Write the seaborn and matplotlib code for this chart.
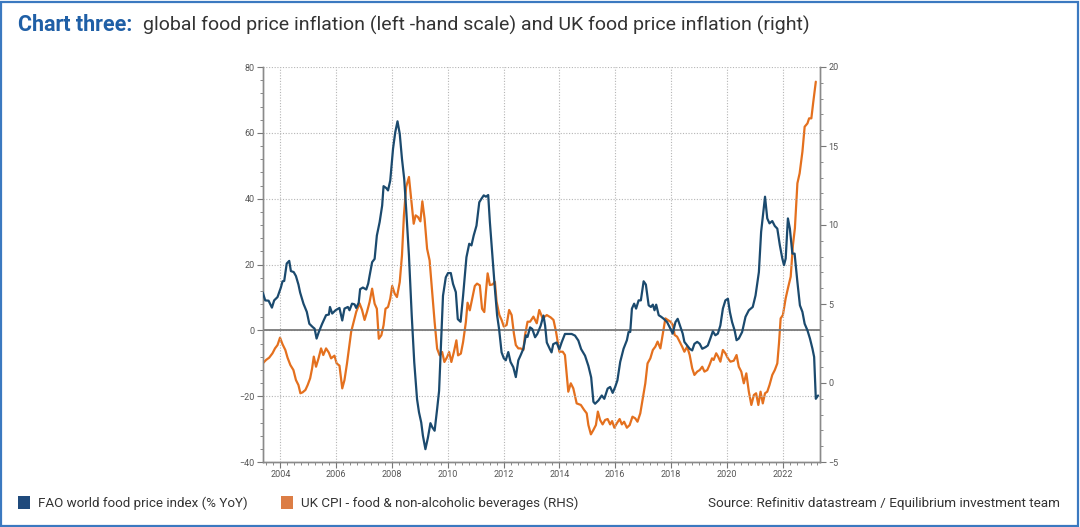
import matplotlib
matplotlib.use("Agg")
import matplotlib.pyplot as plt
import matplotlib.ticker as mticker
from matplotlib import font_manager
from matplotlib.patches import Patch, Rectangle
import seaborn as sns
import pandas as pd

# FAO world food price index, % YoY (left axis)
fao_t = [2003.37, 2003.46, 2003.58, 2003.70, 2003.78, 2003.90, 2004.02, 2004.08, 2004.14, 2004.23,
         2004.32, 2004.38, 2004.48, 2004.56, 2004.65, 2004.71, 2004.83, 2004.95, 2005.04, 2005.16,
         2005.23, 2005.30, 2005.38, 2005.50, 2005.64, 2005.74, 2005.78, 2005.86, 2005.98, 2006.12,
         2006.22, 2006.30, 2006.42, 2006.48, 2006.57, 2006.66, 2006.72, 2006.81, 2006.86, 2006.96,
         2007.08, 2007.15, 2007.20, 2007.29, 2007.38, 2007.46, 2007.56, 2007.65, 2007.70, 2007.80,
         2007.86, 2007.94, 2008.04, 2008.12, 2008.20, 2008.28, 2008.36, 2008.44, 2008.51, 2008.61,
         2008.71, 2008.80, 2008.90, 2008.97, 2009.05, 2009.11, 2009.20, 2009.29, 2009.38, 2009.45,
         2009.53, 2009.62, 2009.69, 2009.75, 2009.83, 2009.93, 2010.01, 2010.11, 2010.19, 2010.29,
         2010.36, 2010.46, 2010.55, 2010.67, 2010.77, 2010.85, 2010.93, 2011.03, 2011.13, 2011.21,
         2011.29, 2011.37, 2011.45, 2011.51, 2011.60, 2011.69, 2011.77, 2011.84, 2011.93, 2012.01,
         2012.08, 2012.17, 2012.25, 2012.35, 2012.44, 2012.53, 2012.61, 2012.71, 2012.80, 2012.86,
         2012.95, 2013.03, 2013.13, 2013.21, 2013.33, 2013.43, 2013.49, 2013.55, 2013.66, 2013.72,
         2013.78, 2013.90, 2014.00, 2014.08, 2014.20, 2014.44, 2014.56, 2014.68, 2014.78, 2014.92,
         2015.04, 2015.14, 2015.22, 2015.28, 2015.40, 2015.52, 2015.61, 2015.73, 2015.82, 2015.91,
         2016.00, 2016.08, 2016.18, 2016.30, 2016.42, 2016.48, 2016.54, 2016.60, 2016.68, 2016.75,
         2016.84, 2016.92, 2017.02, 2017.10, 2017.20, 2017.28, 2017.35, 2017.41, 2017.47, 2017.56,
         2017.65, 2017.74, 2017.86, 2017.98, 2018.06, 2018.16, 2018.24, 2018.34, 2018.42, 2018.48,
         2018.58, 2018.67, 2018.76, 2018.84, 2018.94, 2019.03, 2019.12, 2019.24, 2019.32, 2019.41,
         2019.50, 2019.59, 2019.68, 2019.77, 2019.86, 2019.95, 2020.04, 2020.11, 2020.19, 2020.28,
         2020.35, 2020.43, 2020.55, 2020.67, 2020.79, 2020.93, 2021.03, 2021.15, 2021.23, 2021.31,
         2021.37, 2021.45, 2021.53, 2021.63, 2021.72, 2021.81, 2021.90, 2021.99, 2022.05, 2022.11,
         2022.19, 2022.26, 2022.35, 2022.43, 2022.53, 2022.62, 2022.71, 2022.79, 2022.89, 2022.98,
         2023.07, 2023.13, 2023.19, 2023.27]
fao_v = [11.5, 9.1, 9.0, 6.9, 9.1, 10.1, 13.0, 14.9, 15.0, 20.3,
         21.1, 18.0, 17.7, 16.5, 13.9, 11.5, 8.1, 5.6, 2.0, 1.0,
         0.5, -2.5, -0.5, 2.0, 4.6, 4.8, 7.1, 5.1, 6.1, 6.8,
         3.0, 6.6, 7.1, 6.1, 8.1, 7.9, 6.8, 8.4, 12.5, 13.0,
         12.4, 14.2, 16.6, 20.7, 21.7, 28.8, 32.9, 37.9, 43.8, 43.2,
         42.5, 45.5, 55.2, 60.2, 63.5, 59.7, 52.1, 46.0, 36.9, 22.7,
         4.5, -9.7, -20.9, -24.9, -28.0, -32.0, -36.1, -32.6, -28.2, -29.5,
         -30.5, -23.9, -18.4, -5.7, 10.5, 16.1, 17.4, 17.4, 14.1, 11.6,
         3.4, 2.6, 10.5, 22.2, 26.3, 25.8, 28.8, 31.8, 38.9, 40.0,
         41.0, 40.6, 41.1, 32.9, 22.7, 12.6, 4.5, 0.4, -6.7, -8.5,
         -9.1, -6.6, -9.6, -11.2, -14.2, -9.1, -7.6, -5.6, -1.5, -2.0,
         0.9, 0.4, -2.1, -1.1, 1.4, 4.5, 1.4, -3.7, -5.7, -6.7,
         -4.2, -3.7, -5.7, -3.7, -1.1, -1.1, -1.6, -3.1, -5.7, -7.7,
         -10.8, -14.3, -21.7, -22.3, -21.3, -19.8, -20.8, -17.7, -17.2, -19.0,
         -17.2, -15.2, -9.6, -5.6, -3.0, -0.5, -0.5, 6.6, 8.1, 6.6,
         9.1, 9.1, 14.9, 13.9, 7.6, 7.1, 7.8, 6.1, 7.8, 4.6,
         4.1, 3.5, 2.5, 0.5, -1.0, 2.5, 3.5, 1.0, -1.0, -3.5,
         -4.6, -5.6, -6.1, -4.1, -3.5, -4.1, -5.6, -5.1, -4.6, -2.5,
         -0.3, -1.5, -1.0, 1.5, 6.6, 9.1, 9.6, 5.6, 2.5, 0.0,
         -3.0, -2.5, -0.5, 4.1, 6.1, 7.1, 10.6, 17.7, 29.9, 36.0,
         40.6, 34.0, 32.5, 33.2, 31.7, 30.9, 25.9, 21.8, 19.8, 21.8,
         34.0, 30.9, 23.3, 23.3, 14.7, 7.6, 5.6, 2.0, 0.0, -2.5,
         -5.6, -8.1, -20.8, -19.8]

# UK CPI food & non-alcoholic beverages, % YoY (right axis)
uk_t = [2003.37, 2003.49, 2003.60, 2003.72, 2003.81, 2003.90, 2003.99, 2004.08, 2004.18, 2004.26,
        2004.36, 2004.47, 2004.56, 2004.65, 2004.72, 2004.80, 2004.90, 2004.98, 2005.07, 2005.14,
        2005.20, 2005.28, 2005.37, 2005.46, 2005.54, 2005.64, 2005.74, 2005.82, 2005.94, 2006.02,
        2006.12, 2006.22, 2006.30, 2006.39, 2006.46, 2006.54, 2006.63, 2006.72, 2006.84, 2006.93,
        2007.02, 2007.11, 2007.20, 2007.29, 2007.38, 2007.46, 2007.53, 2007.62, 2007.70, 2007.77,
        2007.86, 2007.94, 2008.01, 2008.10, 2008.18, 2008.28, 2008.36, 2008.43, 2008.51, 2008.61,
        2008.69, 2008.78, 2008.85, 2008.93, 2009.02, 2009.09, 2009.17, 2009.26, 2009.35, 2009.45,
        2009.53, 2009.62, 2009.71, 2009.80, 2009.88, 2009.98, 2010.05, 2010.13, 2010.22, 2010.31,
        2010.37, 2010.47, 2010.55, 2010.65, 2010.71, 2010.79, 2010.89, 2010.97, 2011.05, 2011.15,
        2011.23, 2011.31, 2011.37, 2011.43, 2011.51, 2011.61, 2011.69, 2011.75, 2011.85, 2011.93,
        2012.01, 2012.11, 2012.20, 2012.29, 2012.37, 2012.44, 2012.53, 2012.61, 2012.71, 2012.77,
        2012.86, 2012.95, 2013.07, 2013.19, 2013.28, 2013.40, 2013.55, 2013.69, 2013.79, 2013.88,
        2014.00, 2014.12, 2014.20, 2014.32, 2014.41, 2014.50, 2014.62, 2014.77, 2014.89, 2014.98,
        2015.04, 2015.13, 2015.22, 2015.31, 2015.38, 2015.46, 2015.55, 2015.64, 2015.73, 2015.82,
        2015.89, 2015.97, 2016.06, 2016.16, 2016.24, 2016.32, 2016.42, 2016.52, 2016.62, 2016.72,
        2016.80, 2016.90, 2016.99, 2017.08, 2017.16, 2017.26, 2017.35, 2017.44, 2017.52, 2017.62,
        2017.71, 2017.80, 2017.88, 2017.98, 2018.07, 2018.13, 2018.22, 2018.31, 2018.40, 2018.48,
        2018.58, 2018.67, 2018.76, 2018.84, 2018.94, 2019.03, 2019.12, 2019.20, 2019.30, 2019.38,
        2019.47, 2019.53, 2019.62, 2019.69, 2019.77, 2019.86, 2019.95, 2020.04, 2020.13, 2020.25,
        2020.35, 2020.43, 2020.52, 2020.61, 2020.70, 2020.79, 2020.88, 2020.97, 2021.05, 2021.13,
        2021.21, 2021.29, 2021.37, 2021.45, 2021.53, 2021.63, 2021.72, 2021.81, 2021.87, 2021.93,
        2022.01, 2022.11, 2022.19, 2022.29, 2022.37, 2022.44, 2022.53, 2022.61, 2022.71, 2022.79,
        2022.89, 2022.95, 2023.03, 2023.10, 2023.19]
uk_v = [1.24, 1.46, 1.60, 1.88, 2.19, 2.40, 2.87, 2.45, 2.09, 1.60,
        1.14, 0.82, 0.19, -0.13, -0.65, -0.59, -0.44, -0.13, 0.30, 0.93,
        1.67, 1.03, 1.56, 2.19, 1.77, 2.19, 1.92, 1.56, 1.73, 1.24,
        1.10, -0.34, 0.19, 1.24, 2.19, 3.25, 3.88, 4.50, 5.04, 4.62,
        3.99, 4.52, 5.13, 5.97, 5.02, 4.70, 2.80, 3.02, 3.65, 4.70,
        4.81, 5.34, 6.14, 5.65, 5.44, 6.39, 8.08, 10.61, 12.41, 13.04,
        11.67, 10.08, 10.61, 10.51, 10.23, 11.50, 10.40, 8.50, 7.76, 5.55,
        3.86, 2.17, 1.75, 1.96, 1.33, 1.65, 1.96, 1.33, 1.96, 2.70,
        1.75, 1.86, 2.59, 3.86, 5.08, 4.60, 5.44, 6.14, 6.29, 6.18,
        4.70, 4.49, 5.78, 6.94, 6.20, 6.24, 6.41, 5.15, 4.30, 3.99,
        3.57, 3.67, 4.62, 4.30, 3.14, 2.40, 2.19, 2.19, 2.09, 3.04,
        3.88, 3.88, 4.20, 3.78, 4.62, 4.09, 4.30, 4.15, 3.99, 3.25,
        1.98, 1.98, 1.77, -0.55, -0.02, -0.34, -1.29, -1.39, -1.71, -1.92,
        -2.66, -3.25, -2.97, -2.66, -1.81, -2.34, -2.62, -2.34, -2.28, -2.62,
        -2.41, -2.83, -2.55, -2.28, -2.62, -2.45, -2.83, -2.66, -2.13, -2.24,
        -2.45, -1.92, -0.97, -0.02, 1.24, 1.56, 2.09, 2.30, 2.62, 2.19,
        3.14, 4.09, 3.99, 3.88, 3.67, 3.04, 2.93, 2.62, 2.30, 1.98,
        2.30, 1.77, 0.93, 0.51, 0.72, 0.82, 1.03, 0.72, 0.82, 1.14,
        1.56, 1.46, 1.88, 1.67, 1.35, 2.09, 1.88, 1.56, 1.35, 1.41,
        1.77, 1.03, 0.72, -0.02, 0.61, -0.55, -1.39, -0.76, -0.65, -1.39,
        -0.55, -1.29, -0.65, -0.55, -0.13, 0.51, 0.82, 1.24, 2.51, 4.09,
        4.30, 5.36, 5.99, 6.73, 8.73, 9.79, 12.64, 13.27, 14.64, 16.22,
        16.43, 16.75, 16.75, 17.80, 19.07]

year_ticks = list(range(2004, 2023, 2))

fao_col = "#1b4a6e"
uk_col = "#e4701e"

sns.set_theme(style="white")
narrow = [f.name for f in font_manager.fontManager.ttflist if f.name == "Liberation Sans Narrow"]
body_font = narrow[0] if narrow else "Roboto"
plt.rcParams["font.family"] = ["Roboto", "DejaVu Sans"]

fao = pd.DataFrame({"year": fao_t, "value": fao_v})
uk = pd.DataFrame({"year": uk_t, "value": uk_v})

fig = plt.figure(figsize=(10.8, 5.27), dpi=100)
ax = fig.add_axes([263 / 1080, 1 - 462 / 527, (820 - 263) / 1080, (462 - 67) / 527])
ax2 = ax.twinx()

sns.lineplot(data=fao, x="year", y="value", ax=ax, color=fao_col, linewidth=1.6, zorder=4)
sns.lineplot(data=uk, x="year", y="value", ax=ax2, color=uk_col, linewidth=1.6, zorder=3)

# left axis puts FAO on top of the twin's line
ax.set_zorder(ax2.get_zorder() + 1)
ax.patch.set_visible(False)

ax.set_xlim(2003.38, 2023.34)
ax.set_ylim(-40, 80)
ax2.set_ylim(-5, 20)
ax.set_xlabel("")
ax.set_ylabel("")
ax2.set_ylabel("")

ax.set_xticks(year_ticks)
ax.xaxis.set_minor_locator(mticker.MultipleLocator(0.25))
ax.yaxis.set_major_locator(mticker.MultipleLocator(20))
ax.yaxis.set_minor_locator(mticker.MultipleLocator(4))
ax2.yaxis.set_major_locator(mticker.MultipleLocator(5))
ax2.yaxis.set_minor_locator(mticker.MultipleLocator(1))

ax.grid(True, which="major", linestyle=(0, (1, 1.5)), color="#b5b5b5", linewidth=0.8)
ax.axhline(0, color="#7a7a7a", linewidth=1.3, zorder=2)

for a in (ax, ax2):
    a.tick_params(which="major", direction="out", length=4, width=0.8, color="#777777",
                  labelsize=6.5, labelcolor="#555555", pad=2)
    a.tick_params(which="minor", direction="out", length=2, width=0.6, color="#777777")
    a.spines["top"].set_visible(False)
    for side in ("left", "right", "bottom"):
        a.spines[side].set_color("#8a8a8a")
        a.spines[side].set_linewidth(1.0)
ax.tick_params(axis="x", which="both", bottom=True)
ax.tick_params(axis="y", which="both", left=True)
ax2.tick_params(axis="y", which="both", right=True)

# title
fig.text(18 / 1080, 1 - 25 / 527, "Chart three:", fontsize=15.5, fontweight="bold",
         color="#1f5fa6", va="center", ha="left")
fig.text(143 / 1080, 1 - 25 / 527,
         "global food price inflation (left -hand scale) and UK food price inflation (right)",
         fontsize=14, color="#333333", va="center", ha="left")

# legend and source
handles = [Patch(facecolor="#1f4a7c", edgecolor="none"), Patch(facecolor="#dc7d45", edgecolor="none")]
fig.legend(handles, ["FAO world food price index (% YoY)", "UK CPI - food & non-alcoholic beverages (RHS)"],
           loc="center left", bbox_to_anchor=(18 / 1080, 1 - 503 / 527), ncol=2, frameon=False,
           borderpad=0, borderaxespad=0,
           handlelength=0.9, handleheight=1.1, handletextpad=0.6, columnspacing=2.5,
           prop={"family": body_font, "size": 9.6}, labelcolor="#333333")
fig.text(1060 / 1080, 1 - 503 / 527, "Source: Refinitiv datastream / Equilibrium investment team",
         fontsize=9.7, family=body_font, color="#333333", ha="right", va="center")

# blue frame round the whole graphic
fig.patches.append(Rectangle((0.001, 0.002), 0.997, 0.995, transform=fig.transFigure,
                             fill=False, edgecolor="#3b79c0", linewidth=1.6))

fig.savefig("out.png", dpi=100)
